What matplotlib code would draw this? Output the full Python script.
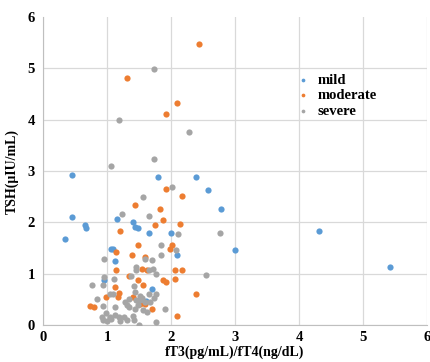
import matplotlib
matplotlib.use("Agg")
import matplotlib.pyplot as plt

# values
mild_x = [0.45, 0.45, 0.65, 0.67, 0.34, 1.79, 2.39, 2.58, 2.78, 3.00, 4.31, 5.42,
          1.15, 1.40, 1.44, 1.49, 1.66, 2.00, 1.06, 1.10, 1.12, 2.09, 0.96, 1.70, 1.61]
mild_y = [2.92, 2.10, 1.95, 1.90, 1.68, 2.88, 2.89, 2.63, 2.27, 1.47, 1.84, 1.13,
          2.06, 2.00, 1.91, 1.89, 1.80, 1.80, 1.48, 1.48, 1.25, 1.36, 0.87, 0.70, 0.47]

moderate_x = [2.43, 1.32, 2.09, 1.92, 1.92, 2.17, 1.44, 1.83, 1.88, 1.75, 1.21, 2.14,
              1.14, 1.48, 1.39, 1.98, 2.01, 1.60, 1.14, 1.54, 1.62, 2.06, 2.17, 2.06,
              1.87, 1.92, 1.49, 1.12, 1.19, 1.57, 0.99, 1.17, 1.40, 2.39, 0.74, 0.80,
              1.60, 1.70, 2.10, 1.52, 1.35]
moderate_y = [5.47, 4.81, 4.32, 4.11, 2.65, 2.51, 2.33, 2.27, 2.05, 1.94, 1.83, 1.97,
              1.42, 1.55, 1.36, 1.49, 1.55, 1.33, 1.07, 1.10, 1.07, 1.08, 1.08, 0.89,
              0.87, 0.84, 0.87, 0.74, 0.63, 0.78, 0.55, 0.55, 0.55, 0.61, 0.37, 0.36,
              0.42, 0.32, 0.18, 0.42, 0.95]

severe_x = [1.74, 1.19, 2.28, 1.73, 1.07, 1.56, 2.01, 1.23, 1.65, 2.11, 2.76, 2.55,
            1.84, 1.85, 2.08, 0.95, 1.59, 1.70, 1.45, 1.46, 1.65, 1.72, 1.76, 1.38,
            0.96, 1.11, 0.77, 0.94, 1.42, 1.05, 1.10, 1.44, 1.66, 1.77, 1.52, 0.84,
            0.94, 1.28, 1.31, 1.34, 1.46, 1.52, 1.60, 1.67, 1.73, 1.13, 1.44, 1.57,
            1.62, 1.90, 0.92, 0.94, 0.99, 1.05, 1.07, 1.12, 1.18, 1.27, 1.31, 1.40,
            1.42, 1.50, 1.77, 1.00, 1.20, 1.55, 1.35, 1.48]
severe_y = [4.98, 3.99, 3.77, 3.23, 3.10, 2.49, 2.69, 2.17, 2.12, 1.78, 1.79, 0.98,
            1.55, 1.36, 1.46, 1.29, 1.29, 1.26, 1.13, 1.07, 1.07, 1.10, 0.99, 0.95,
            0.94, 0.89, 0.78, 0.78, 0.76, 0.61, 0.61, 0.65, 0.60, 0.60, 0.57, 0.50,
            0.37, 0.45, 0.39, 0.36, 0.49, 0.48, 0.45, 0.45, 0.52, 0.36, 0.32, 0.30,
            0.26, 0.32, 0.16, 0.10, 0.23, 0.16, 0.12, 0.19, 0.16, 0.16, 0.10, 0.17,
            0.10, 0.01, 0.06, 0.08, 0.07, 0.52, 0.50, 0.40]

series = [("mild", mild_x, mild_y, "#5B9BD5"),
          ("moderate", moderate_x, moderate_y, "#ED7D31"),
          ("severe", severe_x, severe_y, "#A5A5A5")]

plt.rcParams["font.family"] = ["Liberation Serif", "DejaVu Serif"]
plt.rcParams["font.weight"] = "bold"

fig = plt.figure(figsize=(4.3, 3.62), dpi=100)
ax = fig.add_axes([0.10, 0.102, 0.893, 0.851])

for name, xs, ys, col in series:
    ax.scatter(xs, ys, s=20, color=col, label=name, zorder=3, linewidths=0)

ax.set_xlim(0, 6)
ax.set_ylim(0, 6)
ax.set_xticks(range(7))
ax.set_yticks(range(7))
ax.grid(True, color="#d9d9d9", linewidth=0.9)
ax.yaxis.get_gridlines()[-1].set_visible(False)
for s in ["top", "right"]:
    ax.spines[s].set_visible(False)
for s in ["left", "bottom"]:
    ax.spines[s].set_color("#bfbfbf")
ax.tick_params(length=0, labelsize=10.5)
ax.tick_params(axis="x", pad=4)
ax.tick_params(axis="y", pad=6)
for lab in ax.get_xticklabels() + ax.get_yticklabels():
    lab.set_fontweight("bold")

ax.set_xlabel("fT3(pg/mL)/fT4(ng/dL)", fontsize=10, fontweight="bold", labelpad=1)
ax.set_ylabel("TSH(μIU/mL)", fontsize=10, fontweight="bold", labelpad=6)

ax.legend(loc="upper left", bbox_to_anchor=(0.625, 0.835), frameon=False,
          handletextpad=0.0, labelspacing=0.15, markerscale=0.6,
          borderaxespad=0, prop={"weight": "bold", "size": 10.5})

fig.savefig("out.png", dpi=100)
